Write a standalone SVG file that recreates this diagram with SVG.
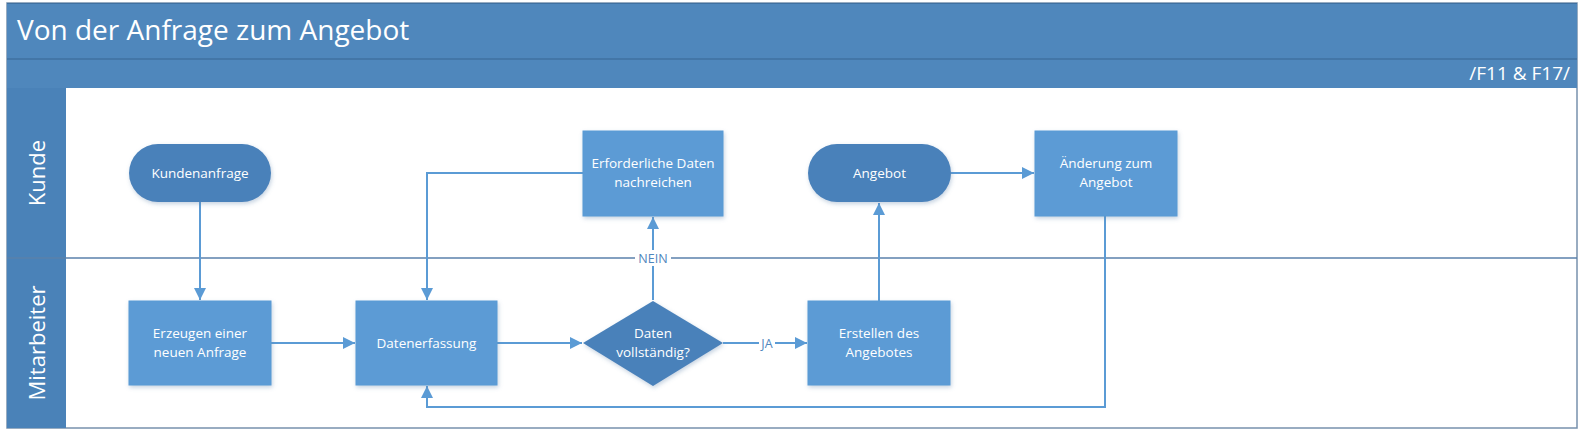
<svg xmlns="http://www.w3.org/2000/svg" width="1586" height="439" viewBox="0 0 1586 439">
<defs>
<filter id="sh" x="-10%" y="-10%" width="130%" height="140%">
<feDropShadow dx="1" dy="2" stdDeviation="2" flood-color="#5b7fa8" flood-opacity="0.35"/>
</filter>
<marker id="ah" viewBox="0 0 12 12" refX="12" refY="6" markerWidth="12" markerHeight="12" markerUnits="userSpaceOnUse" orient="auto">
<path d="M0,0 L12,6 L0,12 Z" fill="#5b9bd5"/>
</marker>
<style>
.bar{fill:#4f87bc}
.hdr{fill:#4a82b8}
.proc{fill:#5b9bd5;stroke:#5b9bd5;stroke-width:1}
.term{fill:#4a81ba}
.nt{font-family:"Open Sans","Liberation Sans",sans-serif;font-size:13.5px;fill:#ffffff;text-anchor:middle}
.lt{font-family:"Open Sans","Liberation Sans",sans-serif;font-size:22px;fill:#ffffff;text-anchor:middle}
.lab{font-family:"Open Sans","Liberation Sans",sans-serif;font-size:12.5px;fill:#4f86bd;text-anchor:middle}
.con{fill:none;stroke:#5b9bd5;stroke-width:2}
.sep{stroke:#5a80ab;stroke-width:1.5}
</style>
</defs>
<rect width="1586" height="439" fill="#ffffff"/>
<g id="frame">
<rect x="7" y="3" width="1570" height="425" fill="#ffffff" stroke="#7791ad" stroke-width="1.5"/>
<rect class="bar" x="7" y="3" width="1570" height="56"/>
<rect class="bar" x="7" y="59" width="1570" height="29"/>
<line x1="7" y1="59" x2="1577" y2="59" stroke="#3f70a0" stroke-width="1.5"/>
<line x1="7" y1="3.5" x2="1577" y2="3.5" stroke="#3f70a0" stroke-width="1"/>
<text x="17" y="40" font-family="Open Sans, Liberation Sans, sans-serif" font-size="28" fill="#ffffff">Von der Anfrage zum Angebot</text>
<text x="1570" y="80" font-family="Open Sans, Liberation Sans, sans-serif" font-size="19" fill="#ffffff" text-anchor="end">/F11 &amp; F17/</text>
</g>
<g id="lane-kunde">
<rect class="hdr" x="7" y="88" width="59" height="170"/>
<text class="lt" transform="translate(37,173) rotate(-90)" dy="8">Kunde</text>
</g>
<g id="lane-mitarbeiter">
<rect class="hdr" x="7" y="258" width="59" height="170"/>
<text class="lt" transform="translate(37,343) rotate(-90)" dy="8">Mitarbeiter</text>
<line class="sep" x1="7" y1="258" x2="1577" y2="258"/>
</g>
<g id="connectors">
<path class="con" d="M200,202 V300" marker-end="url(#ah)"/>
<path class="con" d="M271,343 H355" marker-end="url(#ah)"/>
<path class="con" d="M583,173 H427 V300" marker-end="url(#ah)"/>
<path class="con" d="M497,343 H582" marker-end="url(#ah)"/>
<path class="con" d="M653,300 V217" marker-end="url(#ah)"/>
<path class="con" d="M723,343 H807" marker-end="url(#ah)"/>
<path class="con" d="M879,301 V203" marker-end="url(#ah)"/>
<path class="con" d="M951,173 H1034" marker-end="url(#ah)"/>
<path class="con" d="M1105,216 V407 H427 V386" marker-end="url(#ah)"/>
<rect x="635" y="250" width="36" height="16" fill="#ffffff"/>
<text class="lab" x="653" y="263">NEIN</text>
<rect x="759" y="335" width="16" height="16" fill="#ffffff"/>
<text class="lab" x="767" y="348">JA</text>
</g>
<g id="kundenanfrage">
<rect class="term" x="129" y="144" width="142" height="58" rx="29" filter="url(#sh)"/>
<text class="nt" x="200" y="178">Kundenanfrage</text>
</g>
<g id="erzeugen">
<rect class="proc" x="129" y="301" width="142" height="84" filter="url(#sh)"/>
<text class="nt" x="200" y="338">Erzeugen einer</text>
<text class="nt" x="200" y="357">neuen Anfrage</text>
</g>
<g id="datenerfassung">
<rect class="proc" x="356" y="301" width="141" height="84" filter="url(#sh)"/>
<text class="nt" x="426.5" y="348">Datenerfassung</text>
</g>
<g id="erforderliche-daten">
<rect class="proc" x="583" y="131" width="140" height="85" filter="url(#sh)"/>
<text class="nt" x="653" y="168">Erforderliche Daten</text>
<text class="nt" x="653" y="187">nachreichen</text>
</g>
<g id="daten-vollstaendig">
<path class="term" d="M653,301 L723,343 L653,386 L583,343 Z" filter="url(#sh)"/>
<text class="nt" x="653" y="338">Daten</text>
<text class="nt" x="653" y="357">vollständig?</text>
</g>
<g id="erstellen">
<rect class="proc" x="808" y="301" width="142" height="84" filter="url(#sh)"/>
<text class="nt" x="879" y="338">Erstellen des</text>
<text class="nt" x="879" y="357">Angebotes</text>
</g>
<g id="angebot">
<rect class="term" x="808" y="144" width="143" height="58" rx="29" filter="url(#sh)"/>
<text class="nt" x="879.5" y="178">Angebot</text>
</g>
<g id="aenderung">
<rect class="proc" x="1035" y="131" width="142" height="85" filter="url(#sh)"/>
<text class="nt" x="1106" y="168">Änderung zum</text>
<text class="nt" x="1106" y="187">Angebot</text>
</g>
</svg>
